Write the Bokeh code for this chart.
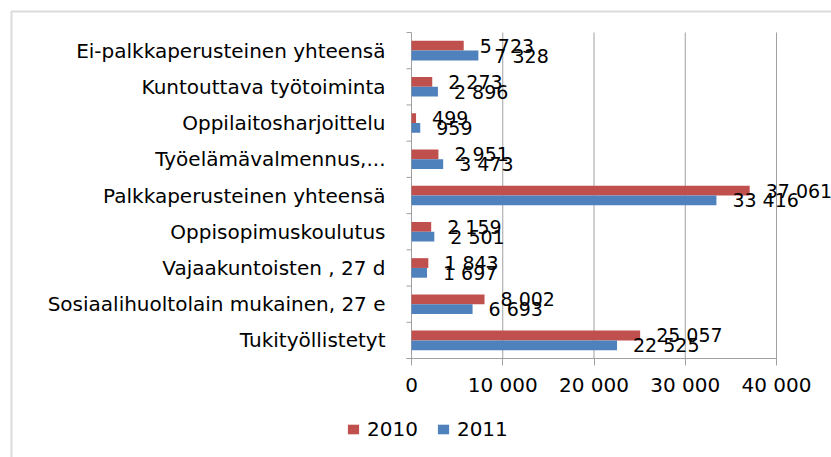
from bokeh.plotting import figure
from bokeh.models import (ColumnDataSource, Range1d, LabelSet, Legend, LegendItem,
                          FixedTicker, BoxAnnotation)
from bokeh.core.properties import value
from bokeh.embed import file_html
from bokeh.resources import INLINE

# ---- data (top to bottom as in the chart) ----
categories = [
    "Ei-palkkaperusteinen yhteensä",
    "Kuntouttava työtoiminta",
    "Oppilaitosharjoittelu",
    "Työelämävalmennus,...",
    "Palkkaperusteinen yhteensä",
    "Oppisopimuskoulutus",
    "Vajaakuntoisten , 27 d",
    "Sosiaalihuoltolain mukainen, 27 e",
    "Tukityöllistetyt",
]
values_2010 = [5723, 2273, 499, 2951, 37061, 2159, 1843, 8002, 25057]
values_2011 = [7328, 2896, 959, 3473, 33416, 2501, 1697, 6693, 22525]
series_names = ["2010", "2011"]
x_ticks = [0, 10000, 20000, 30000, 40000]
x_tick_labels = ["0", "10 000", "20 000", "30 000", "40 000"]
x_max = 40000

RED = "#C0504D"
BLUE = "#4F81BD"
GRAY = "#a0a0a0"
FONT = "DejaVu Sans"

W, H = 831, 457
# plot-area geometry (pixels)
PX_X0, PX_X1 = 411, 776          # x = 0 and x = x_max
PX_TOP, PX_BOT = 32, 358         # top / bottom of category band
n = len(categories)
ux = (PX_X1 - PX_X0) / x_max     # px per unit
uy = (PX_BOT - PX_TOP) / n       # px per category
x_start = -PX_X0 / ux
x_end = (W - PX_X0) / ux
y_end = n + PX_TOP / uy
y_start = -(H - PX_BOT) / uy
tick_len = 5 / ux                # category tick length in data units


def fmt(v):
    return f"{v:,}".replace(",", " ")


centers = [n - 0.5 - i for i in range(n)]
off = 0.135
src = ColumnDataSource(dict(
    cat=categories,
    y10=[c + off for c in centers],
    y11=[c - off for c in centers],
    v2010=values_2010,
    v2011=values_2011,
    l2010=[fmt(v) for v in values_2010],
    l2011=[fmt(v) for v in values_2011],
))

p = figure(
    width=W, height=H,
    x_range=Range1d(x_start, x_end), y_range=Range1d(y_start, y_end),
    output_backend="svg", toolbar_location=None,
    min_border=0, min_border_left=0, min_border_right=0, min_border_top=0, min_border_bottom=0,
)
p.outline_line_color = None
p.background_fill_color = "white"
p.border_fill_color = "white"
p.xgrid.grid_line_color = None
p.ygrid.grid_line_color = None

# chart border (left and top)
p.add_layout(BoxAnnotation(left=x_start + 11 / ux, top=y_end - 11 / uy,
                           right=x_end * 2, bottom=y_start - 5,
                           fill_alpha=0, line_color="#888888", line_width=2))

# vertical grid lines and value axis line
p.segment(x0=x_ticks, x1=x_ticks, y0=[0] * len(x_ticks), y1=[n] * len(x_ticks),
          line_color=GRAY, line_width=1)
# category axis boundary ticks
bounds = list(range(n + 1))
p.segment(x0=[-tick_len] * len(bounds), x1=[0] * len(bounds), y0=bounds, y1=bounds,
          line_color=GRAY, line_width=1)
# horizontal axis line
p.segment(x0=[-tick_len], x1=[x_max], y0=[0], y1=[0], line_color=GRAY, line_width=1)

r10 = p.hbar(y="y10", left=0, right="v2010", height=0.27,
             fill_color=RED, line_color=None, source=src)
r11 = p.hbar(y="y11", left=0, right="v2011", height=0.27,
             fill_color=BLUE, line_color=None, source=src)

# data labels
for field, lab, yf in (("v2010", "l2010", "y10"), ("v2011", "l2011", "y11")):
    p.add_layout(LabelSet(x=field, y=yf, text=lab, source=src,
                          x_offset=16, text_baseline="middle", text_align="left",
                          text_font=value(FONT), text_font_size="19px", text_color="black"))

# category axis
p.yaxis.fixed_location = 0
p.yaxis.ticker = FixedTicker(ticks=centers)
p.yaxis.major_label_overrides = {c: name for c, name in zip(centers, categories)}
p.yaxis.axis_line_color = None
p.yaxis.major_tick_line_color = None
p.yaxis.minor_tick_line_color = None
p.yaxis.major_label_standoff = 20
p.yaxis.major_label_text_font = FONT
p.yaxis.major_label_text_font_size = "20px"
p.yaxis.major_label_text_color = "black"

# value axis
p.xaxis.fixed_location = 0
p.xaxis.ticker = FixedTicker(ticks=x_ticks)
p.xaxis.major_label_overrides = {t: l for t, l in zip(x_ticks, x_tick_labels)}
p.xaxis.axis_line_color = None
p.xaxis.major_tick_line_color = GRAY
p.xaxis.major_tick_out = 7
p.xaxis.major_tick_in = 0
p.xaxis.minor_tick_line_color = None
p.xaxis.major_label_standoff = 7
p.xaxis.major_label_text_font = FONT
p.xaxis.major_label_text_font_size = "20px"
p.xaxis.major_label_text_color = "black"

legend = Legend(
    items=[LegendItem(label=series_names[0], renderers=[r10]),
           LegendItem(label=series_names[1], renderers=[r11])],
    orientation="horizontal", location=(346, 16),
    border_line_color=None, background_fill_alpha=0,
    glyph_width=14, glyph_height=12, label_standoff=7, spacing=18,
    padding=0, margin=0,
    label_text_font=FONT, label_text_font_size="20px", label_text_color="black",
)
p.add_layout(legend)

open("out.html", "w").write(file_html(p, INLINE))
